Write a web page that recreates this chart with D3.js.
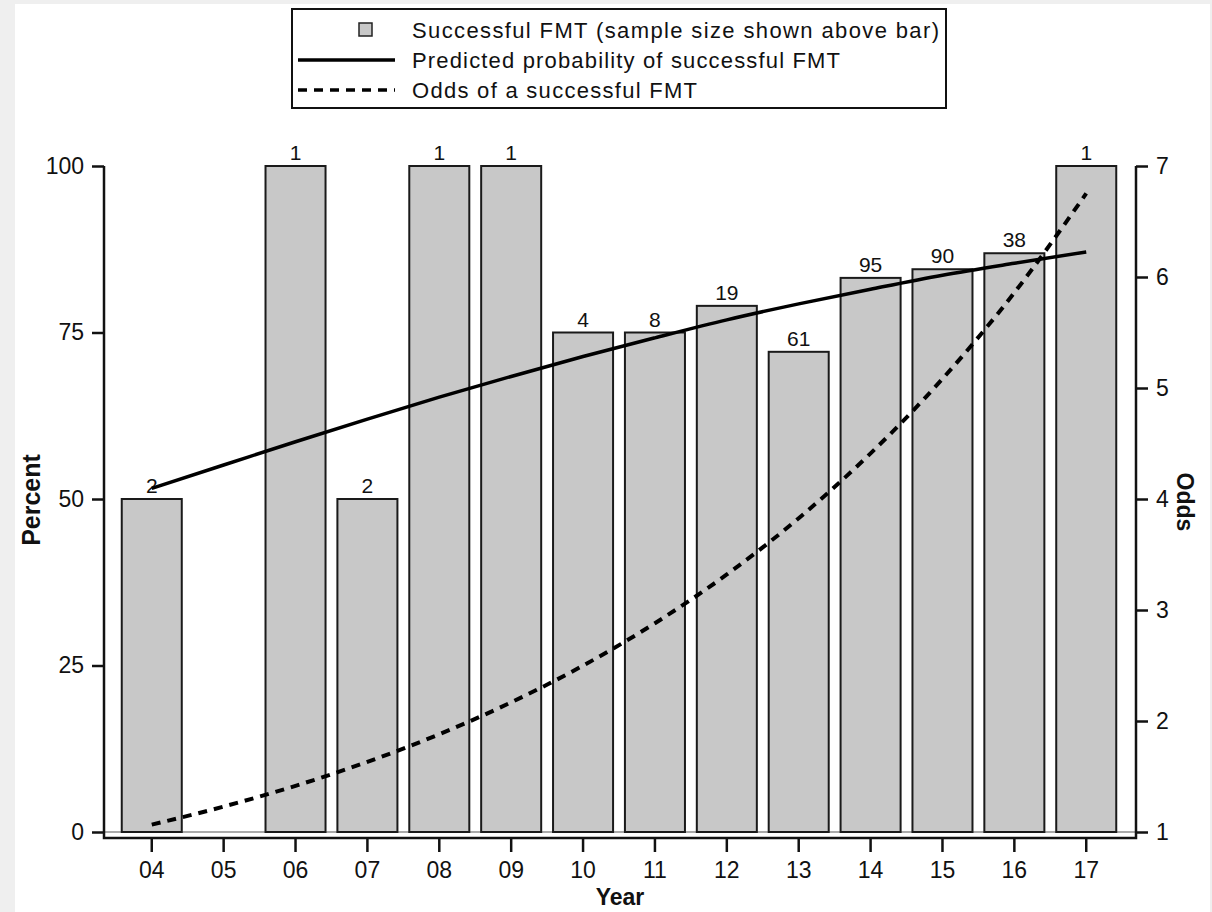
<!DOCTYPE html>
<html>
<head>
<meta charset="utf-8">
<script src="https://cdn.jsdelivr.net/npm/d3@7"></script>
<style>
  body { margin: 0; background: #efefef; }
  svg { display: block; }
  text { font-family: "Liberation Sans", Arial, sans-serif; fill: #111; }
</style>
</head>
<body>
<script>
// data
var years = ["04", "05", "06", "07", "08", "09", "10", "11", "12", "13", "14", "15", "16", "17"];
var successPct = [50, null, 100, 50, 100, 100, 75, 75, 79, 72.1, 83.2, 84.5, 86.9, 100];
var sampleSize = [2, null, 1, 2, 1, 1, 4, 8, 19, 61, 95, 90, 38, 1];
var predictedPct = [51.6, 55.1, 58.6, 62.0, 65.3, 68.4, 71.4, 74.2, 76.9, 79.3, 81.5, 83.6, 85.4, 87.1];
var odds = [1.066, 1.229, 1.416, 1.632, 1.881, 2.168, 2.499, 2.881, 3.320, 3.827, 4.411, 5.083, 5.859, 6.753];
var pctTicks = [0, 25, 50, 75, 100];
var oddsTicks = [1, 2, 3, 4, 5, 6, 7];
var legendItems = ["Successful FMT (sample size shown above bar)", "Predicted probability of successful FMT", "Odds of a successful FMT"];
var legendWidths = [527, 428, 285];

var width = 1212, height = 912;
var plotLeft = 104, plotRight = 1136, plotTop = 166, zeroY = 832, axisY = 838;

var svg = d3.select("body").append("svg")
    .attr("width", width)
    .attr("height", height);

svg.append("rect")
    .attr("x", 15).attr("y", 4)
    .attr("width", 1195).attr("height", height - 4)
    .attr("fill", "#fff");

var x = d3.scaleBand()
    .domain(years)
    .range([plotLeft + 12, plotRight - 14])
    .paddingInner(0.165)
    .paddingOuter(0.08);

var yPct = d3.scaleLinear().domain([0, 100]).range([zeroY, plotTop]);
var yOdds = d3.scaleLinear().domain([1, 7]).range([zeroY, plotTop]);

// light zero line
svg.append("line")
    .attr("x1", plotLeft).attr("x2", plotRight)
    .attr("y1", zeroY).attr("y2", zeroY)
    .attr("stroke", "#aaa").attr("stroke-width", 2);

var bars = years.map(function (y, i) { return { year: y, pct: successPct[i], n: sampleSize[i] }; })
    .filter(function (d) { return d.pct != null; });

svg.selectAll(".bar")
    .data(bars)
    .enter().append("rect")
    .attr("class", "bar")
    .attr("x", function (d) { return x(d.year); })
    .attr("y", function (d) { return yPct(d.pct); })
    .attr("width", x.bandwidth())
    .attr("height", function (d) { return zeroY - yPct(d.pct); })
    .attr("fill", "#c8c8c8")
    .attr("stroke", "#1a1a1a")
    .attr("stroke-width", 2);

svg.selectAll(".n")
    .data(bars)
    .enter().append("text")
    .attr("class", "n")
    .attr("x", function (d) { return x(d.year) + x.bandwidth() / 2; })
    .attr("y", function (d) { return yPct(d.pct) - 6; })
    .attr("text-anchor", "middle")
    .attr("font-size", 21)
    .text(function (d) { return d.n; });

var cx = function (d, i) { return x(years[i]) + x.bandwidth() / 2; };

svg.append("path")
    .datum(predictedPct)
    .attr("fill", "none")
    .attr("stroke", "#000")
    .attr("stroke-width", 3.5)
    .attr("d", d3.line().x(cx).y(function (d) { return yPct(d); }).curve(d3.curveMonotoneX));

svg.append("path")
    .datum(odds)
    .attr("fill", "none")
    .attr("stroke", "#000")
    .attr("stroke-width", 4)
    .attr("stroke-dasharray", "9,7")
    .attr("d", d3.line().x(cx).y(function (d) { return yOdds(d); }).curve(d3.curveMonotoneX));

// axes
var axisStyle = function (g) {
    g.select(".domain").remove();
    g.selectAll(".tick line").attr("stroke", "#111").attr("stroke-width", 2.5);
    g.selectAll(".tick text").attr("font-size", 23).attr("font-family", "Liberation Sans, Arial, sans-serif").attr("fill", "#111");
};

svg.append("g")
    .attr("transform", "translate(" + plotLeft + ",0)")
    .call(d3.axisLeft(yPct).tickValues(pctTicks).tickSize(12).tickPadding(8))
    .call(axisStyle);

svg.append("g")
    .attr("transform", "translate(" + plotRight + ",0)")
    .call(d3.axisRight(yOdds).tickValues(oddsTicks).tickFormat(d3.format("d")).tickSize(12).tickPadding(8))
    .call(axisStyle);

svg.append("g")
    .attr("transform", "translate(0," + axisY + ")")
    .call(d3.axisBottom(x).tickSize(14).tickPadding(10))
    .call(axisStyle);

svg.append("path")
    .attr("d", "M" + plotLeft + "," + plotTop + "V" + axisY + "H" + plotRight + "V" + plotTop)
    .attr("fill", "none")
    .attr("stroke", "#111")
    .attr("stroke-width", 2.5);

// axis titles
svg.append("text")
    .attr("transform", "translate(40," + 500 + ") rotate(-90)")
    .attr("text-anchor", "middle")
    .attr("font-size", 25).attr("font-weight", "bold")
    .text("Percent");

svg.append("text")
    .attr("transform", "translate(1177," + 502 + ") rotate(90)")
    .attr("text-anchor", "middle")
    .attr("font-size", 23).attr("font-weight", "bold")
    .text("Odds");

svg.append("text")
    .attr("x", (plotLeft + plotRight) / 2).attr("y", 905)
    .attr("text-anchor", "middle")
    .attr("font-size", 23).attr("font-weight", "bold")
    .text("Year");

// legend
var lg = svg.append("g");
lg.append("rect")
    .attr("x", 292).attr("y", 9)
    .attr("width", 654).attr("height", 99)
    .attr("fill", "#fff")
    .attr("stroke", "#111").attr("stroke-width", 2);

lg.append("rect")
    .attr("x", 359).attr("y", 23)
    .attr("width", 13).attr("height", 13)
    .attr("fill", "#c8c8c8").attr("stroke", "#222").attr("stroke-width", 1.5);
lg.append("line")
    .attr("x1", 298).attr("x2", 395).attr("y1", 60).attr("y2", 60)
    .attr("stroke", "#000").attr("stroke-width", 3.5);
lg.append("line")
    .attr("x1", 298).attr("x2", 395).attr("y1", 90).attr("y2", 90)
    .attr("stroke", "#000").attr("stroke-width", 3.5).attr("stroke-dasharray", "9,7");

lg.selectAll(".lt")
    .data(legendItems)
    .enter().append("text")
    .attr("class", "lt")
    .attr("x", 412)
    .attr("y", function (d, i) { return 38 + i * 30; })
    .attr("font-size", 22)
    .attr("textLength", function (d, i) { return legendWidths[i]; })
    .attr("lengthAdjust", "spacing")
    .text(function (d) { return d; });
</script>
</body>
</html>
